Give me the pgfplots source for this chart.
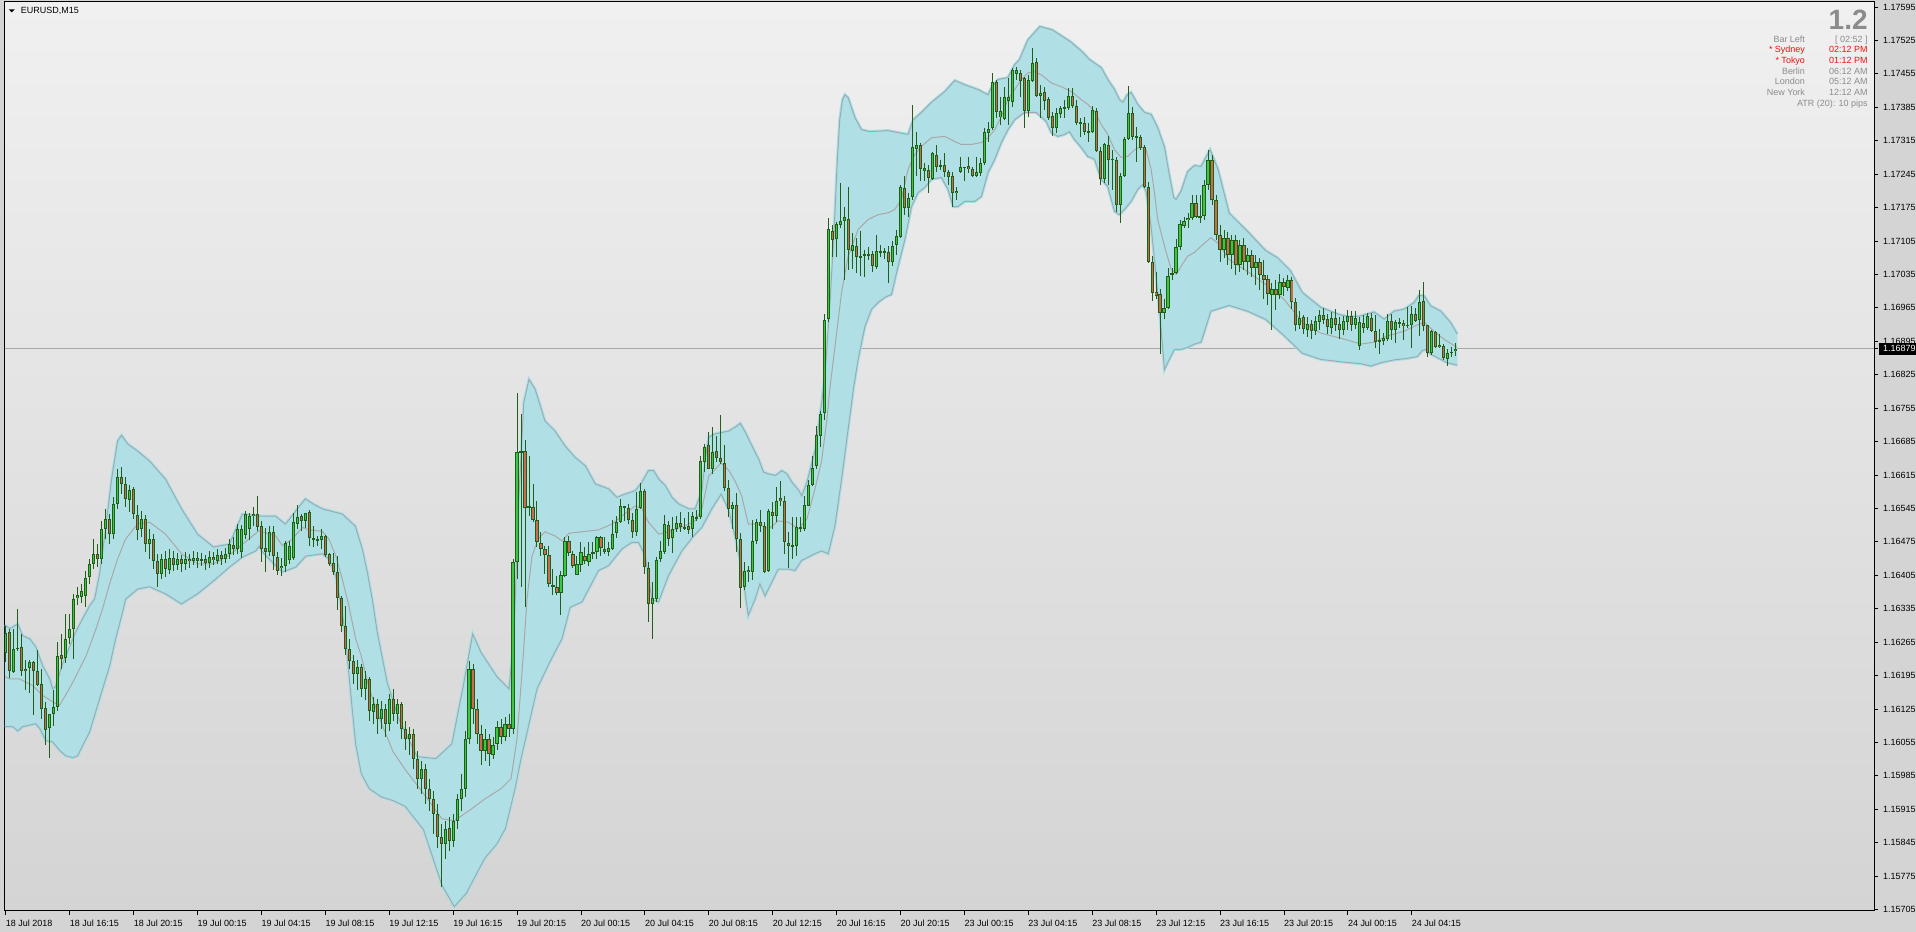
\documentclass[border=0pt]{standalone}
\usepackage{pgfplots}
\pgfplotsset{compat=1.18}
\usepgfplotslibrary{fillbetween}
\usepackage{pgfplotstable}
\usepackage{fontspec}
\setmainfont{Liberation Sans}
\definecolor{bgtop}{HTML}{F0F0F0}
\definecolor{bgbot}{HTML}{D4D4D4}
\definecolor{marg}{HTML}{D4D4D4}
\definecolor{bandfill}{HTML}{B0E0E6}
\definecolor{bandhalo}{HTML}{A2E2EC}
\definecolor{bandline}{HTML}{A8A8A8}
\definecolor{wick}{HTML}{1F5F1A}
\definecolor{bull}{HTML}{3CC83C}
\definecolor{bear}{HTML}{CD6A4A}
\definecolor{infogray}{HTML}{8C8C8C}
\definecolor{infored}{HTML}{F01010}

\pgfplotstableread{
x o h l c
0 1.16244 1.16301 1.16224 1.16286
1 1.16286 1.16294 1.16190 1.16203
2 1.16203 1.16293 1.16202 1.16252
3 1.16253 1.16334 1.16247 1.16252
4 1.16254 1.16284 1.16195 1.16205
5 1.16210 1.16228 1.16164 1.16205
6 1.16212 1.16228 1.16158 1.16223
7 1.16223 1.16226 1.16113 1.16205
8 1.16204 1.16249 1.16174 1.16176
9 1.16178 1.16209 1.16103 1.16127
10 1.16127 1.16141 1.16051 1.16081
11 1.16085 1.16115 1.16022 1.16115
12 1.16115 1.16165 1.16090 1.16131
13 1.16130 1.16266 1.16120 1.16237
14 1.16239 1.16282 1.16209 1.16231
15 1.16233 1.16324 1.16221 1.16273
16 1.16273 1.16324 1.16261 1.16293
17 1.16293 1.16366 1.16230 1.16357
18 1.16358 1.16381 1.16343 1.16364
19 1.16360 1.16387 1.16347 1.16372
20 1.16362 1.16414 1.16339 1.16401
21 1.16402 1.16439 1.16387 1.16429
22 1.16429 1.16481 1.16418 1.16450
23 1.16450 1.16470 1.16422 1.16439
24 1.16439 1.16519 1.16429 1.16502
25 1.16502 1.16544 1.16481 1.16523
26 1.16523 1.16533 1.16470 1.16491
27 1.16491 1.16569 1.16481 1.16554
28 1.16554 1.16627 1.16544 1.16611
29 1.16611 1.16632 1.16575 1.16596
30 1.16596 1.16611 1.16548 1.16565
31 1.16565 1.16596 1.16539 1.16586
32 1.16586 1.16590 1.16523 1.16533
33 1.16533 1.16554 1.16481 1.16502
34 1.16502 1.16539 1.16485 1.16523
35 1.16523 1.16533 1.16456 1.16470
36 1.16470 1.16502 1.16439 1.16481
37 1.16481 1.16491 1.16418 1.16435
38 1.16435 1.16450 1.16381 1.16408
39 1.16408 1.16450 1.16397 1.16439
40 1.16439 1.16456 1.16402 1.16418
41 1.16418 1.16460 1.16408 1.16443
42 1.16443 1.16456 1.16414 1.16427
43 1.16427 1.16452 1.16418 1.16439
44 1.16439 1.16450 1.16414 1.16429
45 1.16429 1.16454 1.16418 1.16441
46 1.16441 1.16450 1.16422 1.16435
47 1.16435 1.16456 1.16427 1.16443
48 1.16443 1.16454 1.16422 1.16435
49 1.16435 1.16452 1.16425 1.16439
50 1.16439 1.16448 1.16418 1.16431
51 1.16431 1.16456 1.16422 1.16443
52 1.16443 1.16454 1.16427 1.16437
53 1.16437 1.16460 1.16429 1.16448
54 1.16448 1.16458 1.16427 1.16439
55 1.16439 1.16464 1.16433 1.16450
56 1.16450 1.16481 1.16439 1.16470
57 1.16470 1.16485 1.16448 1.16460
58 1.16460 1.16512 1.16450 1.16502
59 1.16454 1.16512 1.16443 1.16502
60 1.16491 1.16539 1.16481 1.16535
61 1.16502 1.16537 1.16479 1.16529
62 1.16529 1.16548 1.16510 1.16535
63 1.16535 1.16571 1.16498 1.16508
64 1.16510 1.16519 1.16433 1.16460
65 1.16462 1.16504 1.16412 1.16454
66 1.16454 1.16508 1.16445 1.16496
67 1.16496 1.16510 1.16418 1.16445
68 1.16445 1.16454 1.16406 1.16416
69 1.16420 1.16441 1.16404 1.16425
70 1.16425 1.16477 1.16412 1.16473
71 1.16439 1.16477 1.16429 1.16468
72 1.16441 1.16537 1.16437 1.16516
73 1.16514 1.16554 1.16502 1.16529
74 1.16529 1.16533 1.16498 1.16519
75 1.16519 1.16537 1.16506 1.16537
76 1.16537 1.16542 1.16466 1.16483
77 1.16483 1.16510 1.16466 1.16479
78 1.16481 1.16487 1.16466 1.16477
79 1.16479 1.16502 1.16460 1.16487
80 1.16487 1.16491 1.16445 1.16448
81 1.16450 1.16454 1.16425 1.16429
82 1.16431 1.16452 1.16406 1.16412
83 1.16412 1.16445 1.16332 1.16358
84 1.16358 1.16362 1.16286 1.16299
85 1.16299 1.16343 1.16240 1.16251
86 1.16251 1.16272 1.16209 1.16226
87 1.16226 1.16240 1.16178 1.16199
88 1.16199 1.16230 1.16167 1.16213
89 1.16213 1.16220 1.16151 1.16167
90 1.16167 1.16205 1.16146 1.16188
91 1.16188 1.16192 1.16100 1.16121
92 1.16121 1.16151 1.16094 1.16136
93 1.16136 1.16146 1.16073 1.16105
94 1.16105 1.16142 1.16084 1.16125
95 1.16125 1.16136 1.16067 1.16094
96 1.16094 1.16157 1.16079 1.16146
97 1.16146 1.16167 1.16100 1.16115
98 1.16115 1.16146 1.16094 1.16136
99 1.16136 1.16142 1.16063 1.16084
100 1.16084 1.16100 1.16038 1.16063
101 1.16063 1.16088 1.16031 1.16073
102 1.16073 1.16084 1.16000 1.16021
103 1.16021 1.16038 1.15958 1.15979
104 1.15979 1.16017 1.15948 1.16000
105 1.16000 1.16010 1.15927 1.15958
106 1.15958 1.15979 1.15912 1.15937
107 1.15937 1.15954 1.15864 1.15906
108 1.15906 1.15927 1.15833 1.15858
109 1.15858 1.15885 1.15753 1.15843
110 1.15843 1.15891 1.15812 1.15875
111 1.15875 1.15900 1.15829 1.15849
112 1.15849 1.15906 1.15837 1.15891
113 1.15891 1.15948 1.15875 1.15937
114 1.15937 1.15990 1.15912 1.15958
115 1.15958 1.16079 1.15941 1.16063
116 1.16063 1.16226 1.16052 1.16209
117 1.16209 1.16220 1.16094 1.16125
118 1.16125 1.16146 1.16052 1.16073
119 1.16073 1.16094 1.16010 1.16038
120 1.16038 1.16084 1.16017 1.16063
121 1.16063 1.16073 1.16004 1.16031
122 1.16031 1.16067 1.16021 1.16052
123 1.16052 1.16100 1.16038 1.16088
124 1.16088 1.16105 1.16052 1.16067
125 1.16067 1.16109 1.16059 1.16094
126 1.16094 1.16115 1.16067 1.16084
127 1.16084 1.16439 1.16073 1.16433
128 1.16433 1.16788 1.16397 1.16665
129 1.16663 1.16744 1.16381 1.16667
130 1.16665 1.16688 1.16339 1.16546
131 1.16550 1.16655 1.16529 1.16546
132 1.16548 1.16596 1.16516 1.16521
133 1.16521 1.16562 1.16466 1.16475
134 1.16473 1.16496 1.16445 1.16460
135 1.16460 1.16468 1.16408 1.16448
136 1.16448 1.16466 1.16381 1.16387
137 1.16385 1.16418 1.16364 1.16381
138 1.16381 1.16404 1.16364 1.16368
139 1.16368 1.16414 1.16322 1.16406
140 1.16404 1.16485 1.16402 1.16477
141 1.16477 1.16487 1.16445 1.16452
142 1.16450 1.16456 1.16422 1.16425
143 1.16406 1.16445 1.16406 1.16429
144 1.16427 1.16475 1.16412 1.16454
145 1.16445 1.16464 1.16429 1.16435
146 1.16435 1.16475 1.16425 1.16450
147 1.16450 1.16475 1.16441 1.16454
148 1.16454 1.16487 1.16439 1.16485
149 1.16485 1.16487 1.16445 1.16462
150 1.16460 1.16485 1.16450 1.16454
151 1.16454 1.16475 1.16445 1.16462
152 1.16462 1.16523 1.16460 1.16493
153 1.16493 1.16531 1.16485 1.16516
154 1.16516 1.16567 1.16516 1.16550
155 1.16550 1.16550 1.16519 1.16549
156 1.16548 1.16554 1.16512 1.16523
157 1.16521 1.16537 1.16485 1.16496
158 1.16498 1.16579 1.16487 1.16546
159 1.16546 1.16600 1.16544 1.16581
160 1.16581 1.16586 1.16408 1.16422
161 1.16422 1.16433 1.16309 1.16347
162 1.16347 1.16391 1.16272 1.16358
163 1.16355 1.16445 1.16349 1.16437
164 1.16439 1.16477 1.16433 1.16456
165 1.16454 1.16531 1.16450 1.16514
166 1.16512 1.16519 1.16466 1.16483
167 1.16483 1.16529 1.16454 1.16502
168 1.16502 1.16529 1.16496 1.16516
169 1.16516 1.16537 1.16496 1.16506
170 1.16506 1.16527 1.16502 1.16504
171 1.16508 1.16539 1.16493 1.16500
172 1.16502 1.16539 1.16487 1.16529
173 1.16525 1.16542 1.16519 1.16527
174 1.16527 1.16655 1.16523 1.16644
175 1.16642 1.16680 1.16621 1.16675
176 1.16678 1.16705 1.16627 1.16629
177 1.16629 1.16715 1.16617 1.16665
178 1.16665 1.16698 1.16644 1.16652
179 1.16652 1.16740 1.16638 1.16644
180 1.16642 1.16678 1.16581 1.16588
181 1.16588 1.16606 1.16529 1.16544
182 1.16544 1.16558 1.16502 1.16554
183 1.16552 1.16579 1.16456 1.16481
184 1.16483 1.16496 1.16337 1.16381
185 1.16381 1.16433 1.16374 1.16416
186 1.16412 1.16425 1.16391 1.16418
187 1.16412 1.16521 1.16397 1.16477
188 1.16477 1.16523 1.16470 1.16516
189 1.16516 1.16542 1.16496 1.16508
190 1.16510 1.16516 1.16410 1.16412
191 1.16414 1.16544 1.16412 1.16539
192 1.16539 1.16560 1.16502 1.16529
193 1.16529 1.16592 1.16519 1.16562
194 1.16567 1.16602 1.16550 1.16560
195 1.16562 1.16571 1.16450 1.16475
196 1.16475 1.16496 1.16422 1.16468
197 1.16468 1.16527 1.16439 1.16469
198 1.16468 1.16527 1.16445 1.16506
199 1.16502 1.16527 1.16496 1.16506
200 1.16502 1.16571 1.16498 1.16552
201 1.16552 1.16606 1.16550 1.16596
202 1.16596 1.16655 1.16592 1.16631
203 1.16634 1.16717 1.16627 1.16698
204 1.16698 1.16749 1.16675 1.16744
205 1.16746 1.16953 1.16732 1.16941
206 1.16941 1.17154 1.16937 1.17129
207 1.17127 1.17140 1.17073 1.17108
208 1.17110 1.17146 1.17073 1.17140
209 1.17140 1.17227 1.17133 1.17148
210 1.17148 1.17177 1.17025 1.17156
211 1.17152 1.17219 1.17046 1.17087
212 1.17085 1.17123 1.17046 1.17096
213 1.17094 1.17112 1.17039 1.17071
214 1.17075 1.17125 1.17031 1.17071
215 1.17073 1.17087 1.17031 1.17077
216 1.17075 1.17094 1.17066 1.17079
217 1.17079 1.17083 1.17039 1.17052
218 1.17052 1.17119 1.17046 1.17085
219 1.17085 1.17098 1.17071 1.17081
220 1.17085 1.17092 1.17069 1.17081
221 1.17083 1.17094 1.17016 1.17062
222 1.17062 1.17104 1.17052 1.17096
223 1.17096 1.17129 1.17077 1.17115
224 1.17115 1.17223 1.17112 1.17219
225 1.17217 1.17240 1.17160 1.17175
226 1.17175 1.17206 1.17156 1.17196
227 1.17196 1.17390 1.17192 1.17301
228 1.17299 1.17334 1.17240 1.17307
229 1.17307 1.17311 1.17230 1.17257
230 1.17253 1.17269 1.17230 1.17259
231 1.17255 1.17265 1.17206 1.17238
232 1.17236 1.17292 1.17234 1.17290
233 1.17286 1.17307 1.17250 1.17261
234 1.17261 1.17276 1.17255 1.17265
235 1.17265 1.17290 1.17240 1.17250
236 1.17250 1.17255 1.17223 1.17240
237 1.17240 1.17250 1.17177 1.17206
238 1.17206 1.17219 1.17192 1.17211
239 1.17250 1.17280 1.17248 1.17261
240 1.17259 1.17261 1.17230 1.17260
241 1.17261 1.17282 1.17248 1.17255
242 1.17257 1.17261 1.17240 1.17242
243 1.17242 1.17282 1.17240 1.17250
244 1.17248 1.17280 1.17244 1.17269
245 1.17269 1.17342 1.17265 1.17334
246 1.17332 1.17355 1.17313 1.17340
247 1.17342 1.17457 1.17338 1.17439
248 1.17439 1.17443 1.17363 1.17376
249 1.17365 1.17407 1.17349 1.17378
250 1.17361 1.17428 1.17359 1.17407
251 1.17399 1.17447 1.17349 1.17407
252 1.17397 1.17468 1.17386 1.17464
253 1.17457 1.17470 1.17443 1.17464
254 1.17457 1.17464 1.17407 1.17441
255 1.17447 1.17449 1.17344 1.17378
256 1.17378 1.17453 1.17365 1.17443
257 1.17441 1.17510 1.17439 1.17480
258 1.17480 1.17489 1.17407 1.17409
259 1.17409 1.17432 1.17363 1.17416
260 1.17418 1.17428 1.17380 1.17399
261 1.17403 1.17407 1.17359 1.17363
262 1.17367 1.17376 1.17324 1.17342
263 1.17342 1.17384 1.17332 1.17372
264 1.17372 1.17390 1.17363 1.17384
265 1.17384 1.17401 1.17363 1.17385
266 1.17384 1.17426 1.17380 1.17409
267 1.17409 1.17426 1.17384 1.17388
268 1.17390 1.17401 1.17349 1.17353
269 1.17353 1.17365 1.17324 1.17354
270 1.17353 1.17365 1.17328 1.17334
271 1.17334 1.17353 1.17313 1.17335
272 1.17334 1.17388 1.17332 1.17380
273 1.17378 1.17384 1.17292 1.17294
274 1.17294 1.17303 1.17223 1.17236
275 1.17236 1.17311 1.17227 1.17309
276 1.17307 1.17326 1.17223 1.17276
277 1.17278 1.17296 1.17213 1.17276
278 1.17276 1.17282 1.17167 1.17181
279 1.17181 1.17248 1.17144 1.17242
280 1.17242 1.17324 1.17240 1.17319
281 1.17319 1.17430 1.17317 1.17374
282 1.17374 1.17386 1.17317 1.17324
283 1.17324 1.17344 1.17271 1.17323
284 1.17324 1.17328 1.17296 1.17301
285 1.17303 1.17307 1.17217 1.17219
286 1.17219 1.17229 1.17060 1.17062
287 1.17062 1.17073 1.16979 1.16997
288 1.16999 1.17041 1.16983 1.16991
289 1.16993 1.17004 1.16868 1.16955
290 1.16955 1.16983 1.16941 1.16966
291 1.16966 1.17050 1.16964 1.17033
292 1.17037 1.17050 1.17025 1.17033
293 1.17039 1.17108 1.17035 1.17092
294 1.17092 1.17150 1.17087 1.17140
295 1.17137 1.17156 1.17133 1.17148
296 1.17148 1.17165 1.17133 1.17154
297 1.17154 1.17202 1.17150 1.17186
298 1.17186 1.17202 1.17154 1.17156
299 1.17154 1.17202 1.17144 1.17158
300 1.17158 1.17234 1.17150 1.17223
301 1.17223 1.17296 1.17213 1.17276
302 1.17276 1.17286 1.17181 1.17192
303 1.17192 1.17202 1.17108 1.17119
304 1.17119 1.17140 1.17062 1.17087
305 1.17087 1.17129 1.17071 1.17112
306 1.17112 1.17125 1.17056 1.17077
307 1.17077 1.17119 1.17046 1.17108
308 1.17108 1.17119 1.17035 1.17056
309 1.17056 1.17108 1.17041 1.17098
310 1.17098 1.17112 1.17046 1.17062
311 1.17062 1.17092 1.17035 1.17077
312 1.17077 1.17087 1.17029 1.17050
313 1.17050 1.17077 1.17014 1.17062
314 1.17062 1.17071 1.17004 1.17035
315 1.17035 1.17066 1.16983 1.17025
316 1.17025 1.17035 1.16972 1.16993
317 1.16993 1.17018 1.16920 1.17004
318 1.17004 1.17025 1.16962 1.16993
319 1.16993 1.17035 1.16983 1.17020
320 1.17020 1.17029 1.16991 1.17008
321 1.17008 1.17035 1.17000 1.17025
322 1.17025 1.17029 1.16962 1.16979
323 1.16979 1.16987 1.16917 1.16931
324 1.16931 1.16958 1.16920 1.16946
325 1.16946 1.16951 1.16910 1.16920
326 1.16920 1.16946 1.16904 1.16931
327 1.16931 1.16941 1.16900 1.16917
328 1.16917 1.16949 1.16908 1.16937
329 1.16937 1.16962 1.16920 1.16951
330 1.16951 1.16966 1.16931 1.16941
331 1.16941 1.16953 1.16910 1.16925
332 1.16925 1.16958 1.16912 1.16946
333 1.16946 1.16962 1.16917 1.16931
334 1.16931 1.16946 1.16900 1.16920
335 1.16920 1.16949 1.16908 1.16937
336 1.16937 1.16962 1.16920 1.16949
337 1.16949 1.16958 1.16917 1.16931
338 1.16931 1.16958 1.16920 1.16946
339 1.16885 1.16946 1.16878 1.16935
340 1.16934 1.16951 1.16914 1.16924
341 1.16924 1.16955 1.16920 1.16949
342 1.16944 1.16955 1.16914 1.16917
343 1.16918 1.16951 1.16882 1.16894
344 1.16898 1.16921 1.16868 1.16897
345 1.16898 1.16913 1.16889 1.16903
346 1.16901 1.16953 1.16896 1.16939
347 1.16939 1.16953 1.16900 1.16919
348 1.16919 1.16941 1.16892 1.16937
349 1.16934 1.16944 1.16924 1.16935
350 1.16934 1.16941 1.16898 1.16927
351 1.16929 1.16968 1.16924 1.16928
352 1.16929 1.16971 1.16882 1.16953
353 1.16953 1.16965 1.16934 1.16938
354 1.16940 1.17004 1.16907 1.16978
355 1.16978 1.17020 1.16917 1.16927
356 1.16929 1.16931 1.16864 1.16871
357 1.16871 1.16920 1.16868 1.16917
358 1.16916 1.16917 1.16882 1.16884
359 1.16889 1.16910 1.16880 1.16884
360 1.16887 1.16889 1.16856 1.16862
361 1.16859 1.16880 1.16843 1.16870
362 1.16871 1.16885 1.16864 1.16873
363 1.16874 1.16892 1.16866 1.16879
}\candles

\pgfplotstableread{
x y
-0.25 1.16301
1 1.16293
3 1.16303
4.25 1.16278
6 1.16272
7.5 1.16255
9.25 1.16215
11 1.16188
11.75 1.16167
12.5 1.16172
14.25 1.16220
16 1.16255
17.5 1.16286
19.25 1.16314
21 1.16341
22.25 1.16355
23.5 1.16408
25 1.16502
26.5 1.16606
28 1.16686
29 1.16698
30.5 1.16680
33 1.16665
36 1.16644
40 1.16606
44 1.16544
48 1.16491
52 1.16464
56 1.16470
59.25 1.16533
63.5 1.16529
67.5 1.16529
70 1.16512
72 1.16533
75 1.16565
77 1.16554
79.25 1.16544
84.25 1.16533
87.5 1.16508
89.25 1.16460
90.5 1.16412
91.75 1.16355
93 1.16286
95.5 1.16180
98.5 1.16102
103 1.16025
107.7 1.16021
111.7 1.16052
114.7 1.16180
116.9 1.16282
119 1.16243
123 1.16192
126 1.16167
127.2 1.16272
128.4 1.16558
129.7 1.16767
131 1.16815
132.5 1.16795
135 1.16728
137.5 1.16707
140 1.16676
142.5 1.16652
145.1 1.16634
147.6 1.16596
150.9 1.16586
153 1.16568
155.1 1.16575
157.6 1.16582
159.3 1.16600
160.9 1.16624
162.2 1.16624
163.5 1.16606
165.1 1.16593
166.8 1.16568
168.5 1.16554
171 1.16544
172.6 1.16544
174.3 1.16582
175.1 1.16648
176 1.16694
177.6 1.16701
181 1.16707
182.6 1.16715
183.9 1.16723
185.2 1.16704
186.8 1.16676
188.5 1.16648
189.7 1.16621
191 1.16617
192.7 1.16614
194.3 1.16624
195.6 1.16617
196.8 1.16600
198.5 1.16583
199.3 1.16571
200.6 1.16600
202.7 1.16669
204.4 1.16774
205.2 1.16836
206.4 1.16983
207.4 1.17129
208.2 1.17275
208.8 1.17359
209.5 1.17401
210.1 1.17411
210.9 1.17405
212.6 1.17363
214.25 1.17338
216.3 1.17334
220.9 1.17336
223.4 1.17332
225.9 1.17328
227.2 1.17359
229.25 1.17374
231.75 1.17395
235.1 1.17418
237.6 1.17441
240.1 1.17432
243.4 1.17422
245.9 1.17411
246.75 1.17426
248.4 1.17443
250.9 1.17447
252.6 1.17474
253.8 1.17485
255.9 1.17526
258.9 1.17554
262 1.17547
266.6 1.17522
269.5 1.17501
271.3 1.17485
274.25 1.17468
275.9 1.17443
277.6 1.17422
278.8 1.17401
279.7 1.17395
280.75 1.17411
281.75 1.17416
283.4 1.17391
285.1 1.17374
286.75 1.17370
288.4 1.17342
290.1 1.17301
291.3 1.17244
292.4 1.17196
293 1.17192
294.25 1.17209
295.9 1.17250
297.6 1.17263
299.25 1.17261
301.5 1.17296
303.5 1.17255
306.3 1.17163
310.9 1.17125
315.4 1.17085
318.5 1.17069
321.6 1.17043
324.6 1.16997
329.2 1.16966
333.8 1.16951
336.5 1.16946
339.25 1.16948
342.6 1.16956
345.1 1.16941
347.6 1.16958
350.1 1.16962
352.6 1.16976
353.8 1.16991
355.1 1.16990
356.75 1.16969
359.25 1.16958
361.75 1.16934
363.4 1.16910
}\bbup

\pgfplotstableread{
x y
-0.25 1.16193
0.9 1.16188
3.4 1.16188
6.75 1.16174
9.25 1.16153
11.75 1.16140
13.4 1.16132
15.9 1.16167
17.6 1.16194
20.1 1.16236
22.6 1.16293
24.25 1.16335
26 1.16387
28 1.16439
30 1.16481
33 1.16512
36 1.16516
40 1.16491
44 1.16450
48 1.16429
52 1.16429
56 1.16447
59.25 1.16470
63.4 1.16498
67.6 1.16487
69.25 1.16467
71.75 1.16481
74.25 1.16505
75.9 1.16500
79.25 1.16497
80.9 1.16481
82.6 1.16446
84.25 1.16397
85.9 1.16341
87.6 1.16272
89 1.16236
91 1.16167
94 1.16096
97 1.16035
100 1.15998
104.6 1.15948
109.2 1.15895
112.3 1.15891
116 1.15912
120 1.15937
124 1.15958
126.5 1.15979
128 1.16063
129.5 1.16230
130.5 1.16355
131.75 1.16445
133.3 1.16481
135 1.16496
137.6 1.16487
139.25 1.16477
141 1.16493
144.25 1.16496
148.4 1.16500
151.75 1.16512
154.25 1.16529
157.6 1.16550
159.3 1.16544
160.9 1.16516
163.5 1.16491
165.9 1.16496
168.5 1.16504
171 1.16512
172.6 1.16519
174.3 1.16544
176 1.16613
177.6 1.16627
179.1 1.16640
181 1.16625
182.6 1.16602
184.25 1.16571
185.9 1.16512
188.5 1.16512
191 1.16502
193.4 1.16519
195.9 1.16516
198.5 1.16502
200.6 1.16523
202.6 1.16586
204.25 1.16644
205.6 1.16732
206.3 1.16794
209.25 1.16997
210.9 1.17073
213.4 1.17129
215.9 1.17150
218.4 1.17160
220.9 1.17164
222.6 1.17171
224.25 1.17192
225.9 1.17255
227.6 1.17286
229.25 1.17303
231.75 1.17321
235.1 1.17324
237.6 1.17313
239.25 1.17307
241.75 1.17307
244.25 1.17311
245.9 1.17321
247.6 1.17338
249.25 1.17365
250.9 1.17401
252.6 1.17422
254.25 1.17443
255.9 1.17457
257.6 1.17459
259.25 1.17453
261.75 1.17436
264.25 1.17428
266.75 1.17418
269.25 1.17401
270.9 1.17391
272.6 1.17376
274.25 1.17349
275.9 1.17328
277.6 1.17296
279.25 1.17280
280.9 1.17282
282.6 1.17296
284.25 1.17303
285.5 1.17296
286.75 1.17255
287.6 1.17206
288.4 1.17150
290.1 1.17094
291.75 1.17046
293 1.17035
294.25 1.17052
295.9 1.17073
297.6 1.17081
299.25 1.17094
301.7 1.17112
303.5 1.17100
306.3 1.17066
310.9 1.17041
315.4 1.17014
320 1.16983
324.6 1.16935
329.2 1.16912
335.3 1.16899
339.25 1.16889
342.6 1.16893
345.5 1.16905
350.1 1.16916
352.6 1.16926
355.1 1.16935
357.6 1.16916
360.1 1.16899
363.4 1.16882
}\bbmid

\pgfplotstableread{
x y
-0.25 1.16088
1.75 1.16088
3 1.16079
4.25 1.16088
7.5 1.16094
8.5 1.16084
10 1.16059
11.75 1.16056
13.5 1.16038
15 1.16027
16.75 1.16023
18 1.16027
19.25 1.16048
21 1.16077
22.5 1.16119
24.25 1.16167
26 1.16215
27.5 1.16272
29.25 1.16328
30 1.16355
33 1.16376
36 1.16381
40 1.16366
44 1.16345
48 1.16366
52 1.16393
56 1.16422
59.25 1.16443
62.6 1.16456
63.4 1.16466
64.25 1.16454
67.6 1.16425
69.25 1.16412
72.6 1.16422
75.1 1.16445
79.25 1.16450
80.9 1.16439
82.6 1.16404
84.25 1.16328
85.1 1.16272
86.5 1.16146
87.6 1.16052
89 1.15990
91 1.15958
94 1.15941
97 1.15933
100 1.15921
104.6 1.15872
109.2 1.15756
112.3 1.15711
115.3 1.15739
119.9 1.15812
123 1.15843
125.1 1.15875
127.5 1.15958
129 1.16021
131 1.16094
133 1.16167
136 1.16220
139.25 1.16272
141.3 1.16338
144.25 1.16349
148.4 1.16415
150.9 1.16425
154.25 1.16460
156.75 1.16474
158.4 1.16474
160.1 1.16446
161.75 1.16355
163.4 1.16349
165.9 1.16404
169.25 1.16456
172.6 1.16491
174.25 1.16505
176.75 1.16544
179.1 1.16575
180.9 1.16544
182.6 1.16487
184.25 1.16418
185.9 1.16321
187.6 1.16355
188.8 1.16387
190.1 1.16362
191.75 1.16390
193.4 1.16418
195.9 1.16418
197.6 1.16415
199.25 1.16436
202.6 1.16450
204.25 1.16456
205.9 1.16450
207.6 1.16509
209.25 1.16606
210.9 1.16711
212.2 1.16794
213.4 1.16857
215.1 1.16926
216.75 1.16962
218.4 1.16976
220.1 1.16987
221.75 1.16993
223.4 1.17052
225.1 1.17108
226.75 1.17177
228.4 1.17206
230.1 1.17217
231.75 1.17234
234.25 1.17238
235.9 1.17213
237.2 1.17177
238.4 1.17177
240.1 1.17188
242.6 1.17188
244.25 1.17198
245.9 1.17248
247.6 1.17276
249.25 1.17311
250.9 1.17338
252.6 1.17359
255 1.17374
258 1.17374
260.5 1.17355
261.75 1.17332
263.4 1.17324
265.1 1.17328
266.3 1.17334
267.6 1.17317
269.25 1.17301
270.9 1.17282
272.6 1.17276
274.25 1.17234
275.9 1.17219
277.6 1.17167
278.8 1.17160
280.1 1.17171
281.75 1.17188
283.4 1.17213
284.6 1.17223
285.5 1.17209
286.75 1.17135
287.6 1.17066
288.9 1.16955
290.1 1.16836
291.3 1.16857
292.6 1.16878
294.25 1.16878
295.9 1.16882
297.6 1.16889
299.25 1.16893
301.7 1.16958
306.3 1.16970
310.9 1.16958
315.4 1.16941
320 1.16907
324.6 1.16870
329.2 1.16857
335.3 1.16851
339.25 1.16848
341.75 1.16843
344.25 1.16850
347.6 1.16856
350.9 1.16859
353.4 1.16863
354.6 1.16875
355.5 1.16878
356.75 1.16868
359.25 1.16857
360.9 1.16850
363.4 1.16845
}\bblow

\begin{document}
\pagecolor{marg}
\begin{tikzpicture}
\begin{axis}[
  at={(0pt,0pt)}, anchor=south west,
  scale only axis, width=1872pt, height=910pt,
  xmin=-0.25, xmax=467.75, ymin=1.157026, ymax=1.176054,
  set layers,
  axis background/.style={shade, top color=bgtop, bottom color=bgbot},
  axis line style={black, line width=1pt},
  xtick={0,16,...,352},
  xticklabels={18 Jul 2018, 18 Jul 16:15, 18 Jul 20:15, 19 Jul 00:15, 19 Jul 04:15, 19 Jul 08:15, 19 Jul 12:15, 19 Jul 16:15, 19 Jul 20:15, 20 Jul 00:15, 20 Jul 04:15, 20 Jul 08:15, 20 Jul 12:15, 20 Jul 16:15, 20 Jul 20:15, 23 Jul 00:15, 23 Jul 04:15, 23 Jul 08:15, 23 Jul 12:15, 23 Jul 16:15, 23 Jul 20:15, 24 Jul 00:15, 24 Jul 04:15},
  ytick={1.15705,1.15775,1.15845,1.15915,1.15985,1.16055,1.16125,1.16195,1.16265,1.16335,1.16405,1.16475,1.16545,1.16615,1.16685,1.16755,1.16825,1.16895,1.16965,1.17035,1.17105,1.17175,1.17245,1.17315,1.17385,1.17455,1.17525,1.17595},
  yticklabels={1.15705,1.15775,1.15845,1.15915,1.15985,1.16055,1.16125,1.16195,1.16265,1.16335,1.16405,1.16475,1.16545,1.16615,1.16685,1.16755,1.16825,1.16895,1.16965,1.17035,1.17105,1.17175,1.17245,1.17315,1.17385,1.17455,1.17525,1.17595},
  xtick pos=bottom, ytick pos=right,
  tick align=outside, major tick length=4pt,
  tick style={black, line width=0.8pt},
  xticklabel style={anchor=north west, inner sep=0pt, font=\fontsize{9}{10}\selectfont, yshift=-5pt},
  yticklabel style={anchor=west, inner sep=0pt, font=\fontsize{9}{10}\selectfont, xshift=5pt},
  extra y ticks={1.16879}, extra y tick labels={1.16879},
  extra y tick style={grid=major, major grid style={draw=bandline, line width=0.8pt},
    yticklabel style={fill=black, text=white, inner xsep=4pt, inner ysep=2.7pt, xshift=-4pt}},
]
\addplot[name path=U, draw=none, forget plot] table {\bbup};
\addplot[name path=L, draw=none, forget plot] table {\bblow};
\addplot[bandfill, forget plot] fill between[of=U and L];
\addplot[bandhalo, line width=3pt, forget plot] table {\bbup};
\addplot[bandhalo, line width=3pt, forget plot] table {\bblow};
\addplot[bandline, line width=1pt, forget plot] table {\bbup};
\addplot[bandline, line width=1pt, forget plot] table {\bblow};
\addplot[bandline, line width=1pt, forget plot] table {\bbmid};
% wicks
\addplot[draw=none, mark=none, forget plot,
  error bars/.cd, y dir=both, y explicit, error mark=none,
  error bar style={draw=wick, line width=1pt}]
  table[x=x, y expr={(\thisrow{h}+\thisrow{l})/2}, y error expr={(\thisrow{h}-\thisrow{l})/2}] {\candles};
% body outlines
\addplot[draw=none, mark=none, forget plot,
  error bars/.cd, y dir=both, y explicit, error mark=none,
  error bar style={draw=wick, line width=3.2pt}]
  table[x=x, y expr={(\thisrow{o}+\thisrow{c})/2}, y error expr={max(abs(\thisrow{c}-\thisrow{o})/2,0.0000105)}] {\candles};
% bull fill
\addplot[draw=none, mark=none, forget plot,
  restrict expr to domain={\thisrow{c}-\thisrow{o}}{0:1},
  error bars/.cd, y dir=both, y explicit, error mark=none,
  error bar style={draw=bull, line width=1.2pt}]
  table[x=x, y expr={(\thisrow{o}+\thisrow{c})/2}, y error expr={max(abs(\thisrow{c}-\thisrow{o})/2-0.0000209,0)}] {\candles};
% bear fill
\addplot[draw=none, mark=none, forget plot,
  restrict expr to domain={\thisrow{c}-\thisrow{o}}{-1:0},
  error bars/.cd, y dir=both, y explicit, error mark=none,
  error bar style={draw=bear, line width=1.2pt}]
  table[x=x, y expr={(\thisrow{o}+\thisrow{c})/2}, y error expr={max(abs(\thisrow{c}-\thisrow{o})/2-0.0000209,0)}] {\candles};
\end{axis}
% title
\fill[black] (4pt,902.5pt) -- (10pt,902.5pt) -- (7pt,899.5pt) -- cycle;
\node[anchor=base west, inner sep=0pt, font=\fontsize{9}{10}\selectfont] at (16pt,898pt) {EURUSD,M15};
% info panel
\node[anchor=base east, inner sep=0pt, text=infogray, font=\fontsize{28}{30}\selectfont\bfseries] at (1865.7pt,882pt) {1.2};
\begin{scope}[every node/.style={inner sep=0pt, font=\fontsize{9}{10}\selectfont}]
\node[anchor=base east, text=infogray] at (1803pt,869.7pt) {Bar Left};
\node[anchor=base east, text=infogray] at (1865.7pt,869.7pt) {[ 02:52 ]};
\node[anchor=base east, text=infored] at (1803pt,859pt) {* Sydney};
\node[anchor=base east, text=infored] at (1865.7pt,859pt) {02:12 PM};
\node[anchor=base east, text=infored] at (1803pt,848.3pt) {* Tokyo};
\node[anchor=base east, text=infored] at (1865.7pt,848.3pt) {01:12 PM};
\node[anchor=base east, text=infogray] at (1803pt,837.6pt) {Berlin};
\node[anchor=base east, text=infogray] at (1865.7pt,837.6pt) {06:12 AM};
\node[anchor=base east, text=infogray] at (1803pt,826.9pt) {London};
\node[anchor=base east, text=infogray] at (1865.7pt,826.9pt) {05:12 AM};
\node[anchor=base east, text=infogray] at (1803pt,816.2pt) {New York};
\node[anchor=base east, text=infogray] at (1865.7pt,816.2pt) {12:12 AM};
\node[anchor=base east, text=infogray] at (1865.7pt,805.5pt) {ATR (20): 10 pips};
\end{scope}
\pgfresetboundingbox
\useasboundingbox (-2pt,-21pt) rectangle (1914pt,912pt);
\end{tikzpicture}
\end{document}
